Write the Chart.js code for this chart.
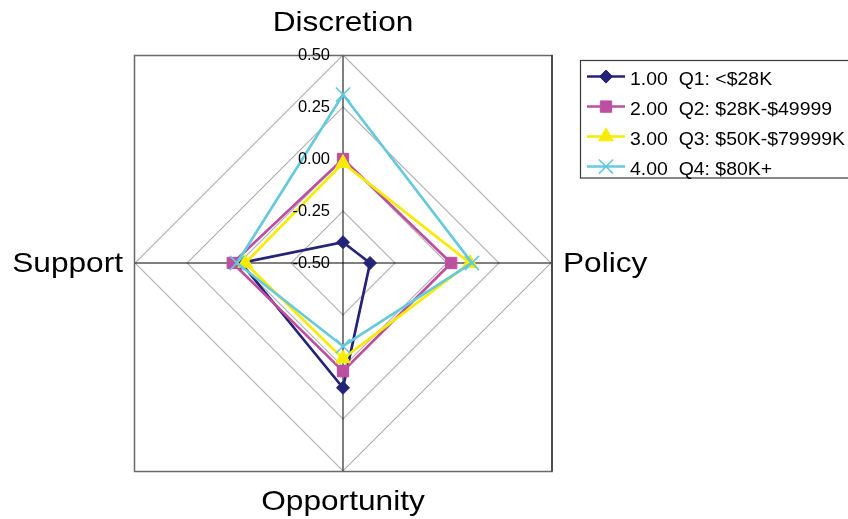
<!DOCTYPE html>
<html>
<head>
<meta charset="utf-8">
<script src="https://cdn.jsdelivr.net/npm/chart.js"></script>
<style>
  html, body { margin: 0; padding: 0; background: #ffffff; }
  canvas { display: block; }
</style>
</head>
<body>
<canvas id="radar" width="848" height="519"></canvas>
<script>
// Axis categories, clockwise from the top
const axes = ['Discretion', 'Policy', 'Opportunity', 'Support'];

// Income quartile series
const seriesNames = ['1.00  Q1: <$28K', '2.00  Q2: $28K-$49999', '3.00  Q3: $50K-$79999K', '4.00  Q4: $80K+'];
const q1Values = [-0.40, -0.37, 0.10, -0.01];
const q2Values = [0.00, 0.02, 0.02, 0.03];
const q3Values = [-0.02, 0.11, -0.04, -0.03];
const q4Values = [0.31, 0.12, -0.10, 0.01];

// Radial scale range
const scaleMin = -0.5;
const scaleMax = 0.5;
const scaleStep = 0.25;

// Series styling
const seriesColors = ['#232378', '#bd4fa0', '#f7ec00', '#66c9dc'];
const seriesMarkers = ['rectRot', 'rect', 'triangle', 'crossRot'];
const markerRadii = [6.5, 8, 8.5, 10];

const FONT = "'Liberation Sans', Arial, sans-serif";

function stretchedText(ctx, text, x, y, align, sx) {
  ctx.save();
  ctx.translate(x, y);
  ctx.scale(sx, 1);
  ctx.textAlign = align;
  ctx.textBaseline = 'alphabetic';
  ctx.fillText(text, 0, 0);
  ctx.restore();
}

function markerPath(ctx, style, r, x, y) {
  if (Chart.helpers && Chart.helpers.drawPoint) {
    Chart.helpers.drawPoint(ctx, { pointStyle: style, radius: r, rotation: 0, borderWidth: ctx.lineWidth }, x, y);
  }
}

// Plot-area frame, tick labels, axis titles and the boxed legend
const decorations = {
  id: 'decorations',
  beforeDatasetsDraw(chart) {
    const s = chart.scales.r;
    const R = s.drawingArea;
    const ctx = chart.ctx;
    ctx.save();
    ctx.strokeStyle = '#6a6a6a';
    ctx.lineWidth = 1.5;
    ctx.strokeRect(s.xCenter - R - 0.5, s.yCenter - R + 0.5, 2 * R + 1.5, 2 * R);
    ctx.strokeStyle = '#222222';
    ctx.lineWidth = 1.2;
    ctx.beginPath();
    ctx.moveTo(s.xCenter + R + 1, s.yCenter - R);
    ctx.lineTo(s.xCenter + R + 1, s.yCenter + R + 0.5);
    ctx.stroke();
    ctx.restore();
  },
  afterDraw(chart) {
    const s = chart.scales.r;
    const R = s.drawingArea;
    const ctx = chart.ctx;
    ctx.save();
    ctx.fillStyle = '#000000';

    // tick labels along the vertical axis
    ctx.font = '16.5px ' + FONT;
    ctx.textAlign = 'right';
    ctx.textBaseline = 'middle';
    s.ticks.forEach(t => {
      const d = s.getDistanceFromCenterForValue(t.value);
      ctx.fillText(t.value.toFixed(2), s.xCenter - 13, s.yCenter - d);
    });

    // axis titles
    ctx.font = '28px ' + FONT;
    chart.data.labels.forEach((label, i) => {
      const p = s.getPointPosition(i, R);
      const cx = Math.cos(p.angle);
      const sy = Math.sin(p.angle);
      let align = 'center';
      let x = p.x;
      let y = p.y + 8.5;
      if (cx > 0.5) { align = 'left'; x = p.x + 12; }
      else if (cx < -0.5) { align = 'right'; x = p.x - 12; }
      if (sy < -0.5) y = p.y - 24;
      else if (sy > 0.5) y = p.y + 38.5;
      stretchedText(ctx, label, x, y, align, 1.13);
    });

    // legend
    ctx.strokeStyle = '#3a3a3a';
    ctx.lineWidth = 1.2;
    ctx.strokeRect(580.5, 60.5, 300, 117.5);
    ctx.font = '18px ' + FONT;
    chart.data.datasets.forEach((ds, i) => {
      const y = 76.6 + i * 30;
      ctx.strokeStyle = ds.borderColor;
      ctx.lineWidth = 2.5;
      ctx.beginPath();
      ctx.moveTo(587, y);
      ctx.lineTo(625, y);
      ctx.stroke();
      ctx.fillStyle = ds.pointBackgroundColor;
      ctx.strokeStyle = ds.pointBorderColor;
      ctx.lineWidth = ds.pointBorderWidth;
      markerPath(ctx, ds.pointStyle, ds.pointRadius, 606, y);
      ctx.fillStyle = '#000000';
      stretchedText(ctx, ds.label, 630, y + 8.3, 'left', 1.08);
    });
    ctx.restore();
  }
};

const seriesValues = [q1Values, q2Values, q3Values, q4Values];
const datasets = seriesValues.map((vals, i) => ({
  label: seriesNames[i],
  data: vals,
  borderColor: seriesColors[i],
  backgroundColor: seriesColors[i],
  borderWidth: 2.7,
  fill: false,
  tension: 0,
  pointStyle: seriesMarkers[i],
  pointRadius: markerRadii[i],
  pointHoverRadius: markerRadii[i],
  pointBackgroundColor: seriesColors[i],
  pointBorderColor: seriesColors[i],
  pointBorderWidth: seriesMarkers[i] === 'crossRot' ? 1.6 : 1,
  order: seriesValues.length - i
}));

new Chart(document.getElementById('radar'), {
  type: 'radar',
  data: { labels: axes, datasets },
  options: {
    responsive: false,
    animation: false,
    layout: { padding: { left: 135, top: 55, right: 297, bottom: 48 } },
    plugins: { legend: { display: false }, tooltip: { enabled: false } },
    scales: {
      r: {
        min: scaleMin,
        max: scaleMax,
        ticks: { display: false, stepSize: scaleStep },
        pointLabels: { display: false },
        grid: { color: '#b4b4b4', lineWidth: 1.1 },
        angleLines: { color: '#000000', lineWidth: 1 }
      }
    }
  },
  plugins: [decorations]
});
</script>
</body>
</html>
